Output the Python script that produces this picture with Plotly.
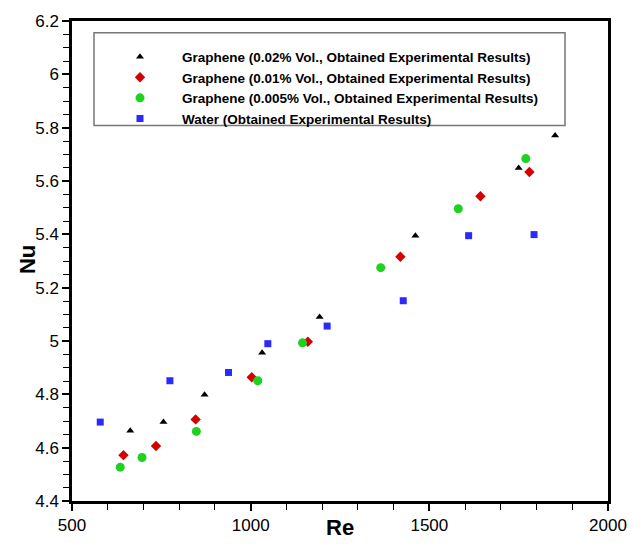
import plotly.graph_objects as go

# ---- data ----
re_g002 = [663, 756, 871, 1032, 1193, 1461, 1750, 1852]
nu_g002 = [4.663, 4.696, 4.798, 4.956, 5.090, 5.395, 5.649, 5.771]

re_g001 = [644, 735, 846, 1003, 1160, 1419, 1643, 1780]
nu_g001 = [4.572, 4.606, 4.706, 4.864, 4.997, 5.316, 5.543, 5.634]

re_g0005 = [635, 696, 848, 1020, 1145, 1364, 1581, 1770]
nu_g0005 = [4.527, 4.563, 4.661, 4.851, 4.993, 5.275, 5.496, 5.684]

re_water = [579, 774, 938, 1048, 1214, 1427, 1610, 1793]
nu_water = [4.696, 4.851, 4.882, 4.990, 5.056, 5.151, 5.395, 5.399]

names = [
    "Graphene (0.02% Vol., Obtained Experimental Results)",
    "Graphene (0.01% Vol., Obtained Experimental Results)",
    "Graphene (0.005% Vol., Obtained Experimental Results)",
    "Water (Obtained Experimental Results)",
]

FONT = "Liberation Sans, Arial, sans-serif"

fig = go.Figure()
series = [
    (re_g002, nu_g002, names[0], "triangle-up", "#000000", 7),
    (re_g001, nu_g001, names[1], "diamond", "#d40000", 8),
    (re_g0005, nu_g0005, names[2], "circle", "#1ed21e", 9),
    (re_water, nu_water, names[3], "square", "#2a2aff", 7),
]
for x, y, n, sym, col, sz in series:
    fig.add_trace(go.Scatter(
        x=x, y=y, name=n, mode="markers",
        marker=dict(symbol=sym, color=col, size=sz, line=dict(width=0)),
    ))

L, R, T, B = 72, 32, 20, 35
W, H = 640, 547
pw, ph = W - L - R, H - T - B

def px2paper_x(px):
    return (px - L) / pw

def py2paper_y(py):
    return (H - B - py) / ph

axis_common = dict(
    showgrid=False, zeroline=False, showline=True, linecolor="black",
    linewidth=2.5, mirror=True, ticks="outside", ticklen=7, tickwidth=1.5,
    tickcolor="black", tickfont=dict(family=FONT, size=17, color="black"),
)

fig.update_layout(
    width=W, height=H,
    margin=dict(l=L, r=R, t=T, b=B),
    paper_bgcolor="white", plot_bgcolor="white",
    xaxis=dict(range=[500, 2000], tick0=500, dtick=500,
               minor=dict(dtick=100, ticks="outside", ticklen=6, tickwidth=1.2, tickcolor="black"),
               **axis_common),
    yaxis=dict(range=[4.4, 6.2], tick0=4.4, dtick=0.2,
               minor=dict(dtick=0.05, ticks="outside", ticklen=6, tickwidth=1.2, tickcolor="black"),
               **axis_common),
    showlegend=True,
    legend=dict(
        x=px2paper_x(98), y=py2paper_y(41), xanchor="left", yanchor="top",
        bgcolor="rgba(0,0,0,0)", borderwidth=0,
        font=dict(family=FONT, size=13.5, color="black", weight="bold"),
        itemwidth=74, tracegroupgap=0,
    ),
    shapes=[dict(type="rect", xref="paper", yref="paper",
                 x0=px2paper_x(94), x1=px2paper_x(565),
                 y0=py2paper_y(127), y1=py2paper_y(32),
                 line=dict(color="#777777", width=1.5), fillcolor="rgba(0,0,0,0)")],
    annotations=[
        dict(text="Re", xref="paper", yref="paper", x=0.5, y=py2paper_y(539),
             xanchor="center", yanchor="middle", showarrow=False,
             font=dict(family=FONT, size=22, color="black", weight="bold")),
        dict(text="Nu", xref="paper", yref="paper", x=px2paper_x(27), y=py2paper_y(265),
             xanchor="center", yanchor="middle", showarrow=False, textangle=-90,
             font=dict(family=FONT, size=22, color="black", weight="bold")),
    ],
)

fig.write_html("out.html")
